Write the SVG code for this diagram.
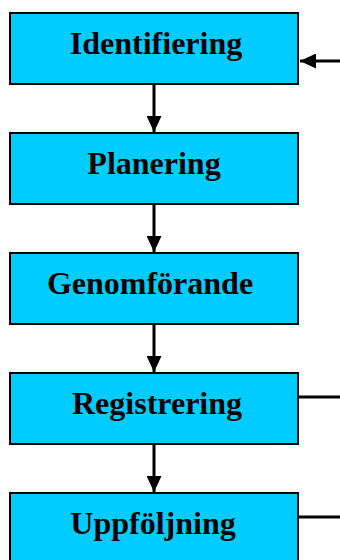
<svg xmlns="http://www.w3.org/2000/svg" width="340" height="560" viewBox="0 0 340 560">
<style>
.box{fill:#00CCFF;stroke:#000;stroke-width:2}
.lbl{font-family:"Liberation Serif","Times New Roman",serif;font-weight:bold;font-size:32px;fill:#000;text-anchor:middle}
.ln{stroke:#000;stroke-width:3;fill:none}
</style>
<defs>
<marker id="ah" viewBox="0 0 16 15" refX="16" refY="7.5" markerWidth="16" markerHeight="15" markerUnits="userSpaceOnUse" orient="auto">
<path d="M0,0 L16,7.5 L0,15 Z" fill="#000"/>
</marker>
</defs>
<rect width="340" height="560" fill="#fff"/>
<g id="connectors">
<line class="ln" x1="154" y1="85" x2="154" y2="132" marker-end="url(#ah)"/>
<line class="ln" x1="154" y1="205" x2="154" y2="252" marker-end="url(#ah)"/>
<line class="ln" x1="154" y1="325" x2="154" y2="372" marker-end="url(#ah)"/>
<line class="ln" x1="154" y1="445" x2="154" y2="492" marker-end="url(#ah)"/>
<line class="ln" x1="340" y1="61" x2="300" y2="61" marker-end="url(#ah)"/>
<line class="ln" x1="299" y1="397" x2="340" y2="397"/>
<line class="ln" x1="299" y1="517" x2="340" y2="517"/>
</g>
<g id="n1"><rect class="box" x="10" y="13" width="288" height="71"/><text class="lbl" x="156" y="54">Identifiering</text></g>
<g id="n2"><rect class="box" x="10" y="133" width="288" height="71"/><text class="lbl" x="154" y="174">Planering</text></g>
<g id="n3"><rect class="box" x="10" y="253" width="288" height="71"/><text class="lbl" x="150" y="294">Genomförande</text></g>
<g id="n4"><rect class="box" x="10" y="373" width="288" height="71"/><text class="lbl" x="157" y="414">Registrering</text></g>
<g id="n5"><rect class="box" x="10" y="493" width="288" height="71"/><text class="lbl" x="153" y="534">Uppföljning</text></g>
</svg>
